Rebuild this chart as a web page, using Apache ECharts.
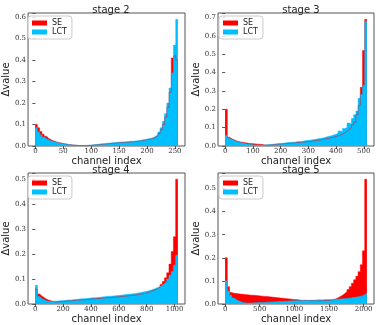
<!DOCTYPE html>
<html>
<head>
<meta charset="utf-8">
<script src="https://cdn.jsdelivr.net/npm/echarts@6/dist/echarts.min.js"></script>
<style>
  html, body { margin: 0; padding: 0; background: #fff; }
  #chart { width: 382px; height: 325px; }
</style>
</head>
<body>
<div id="chart"></div>
<script>
// panel titles and channel counts
const stageNames = ["stage 2", "stage 3", "stage 4", "stage 5"];
const channelCounts = [256, 512, 1024, 2048];
const xTickSteps = [50, 100, 200, 500];

// delta values, 64 equal bins of channels per stage
const se2 = [0.100,0.085,0.068,0.055,0.045,0.036,0.030,0.025,0.021,0.018,
  0.015,0.013,0.011,0.009,0.007,0.006,0.005,0.004,0.003,0.002,
  0.002,0.002,0.002,0.003,0.003,0.004,0.005,0.006,0.007,0.008,
  0.009,0.010,0.011,0.012,0.013,0.014,0.015,0.016,0.016,0.017,
  0.018,0.018,0.019,0.020,0.021,0.022,0.023,0.025,0.027,0.029,
  0.031,0.033,0.036,0.041,0.047,0.058,0.075,0.100,0.135,0.180,
  0.250,0.410,0.420,0.400];
const lct2 = [0.085,0.065,0.052,0.042,0.035,0.029,0.025,0.021,0.018,0.016,
  0.014,0.012,0.010,0.009,0.007,0.006,0.005,0.004,0.003,0.002,
  0.002,0.002,0.003,0.003,0.004,0.006,0.007,0.008,0.009,0.010,
  0.011,0.012,0.013,0.014,0.015,0.016,0.017,0.018,0.019,0.019,
  0.020,0.021,0.022,0.022,0.023,0.024,0.026,0.028,0.030,0.032,
  0.034,0.036,0.040,0.045,0.052,0.065,0.085,0.115,0.150,0.200,
  0.270,0.340,0.470,0.590];

const se3 = [0.200,0.048,0.040,0.034,0.029,0.025,0.022,0.020,0.018,0.016,
  0.014,0.013,0.012,0.011,0.010,0.009,0.008,0.006,0.005,0.006,
  0.007,0.008,0.009,0.010,0.011,0.012,0.013,0.014,0.015,0.016,
  0.017,0.018,0.019,0.020,0.021,0.022,0.024,0.025,0.026,0.028,
  0.030,0.031,0.033,0.035,0.037,0.040,0.042,0.045,0.048,0.051,
  0.056,0.060,0.064,0.072,0.080,0.090,0.100,0.115,0.130,0.170,
  0.220,0.320,0.520,0.690];
const lct3 = [0.058,0.042,0.036,0.030,0.026,0.022,0.019,0.016,0.013,0.011,
  0.009,0.008,0.006,0.005,0.005,0.004,0.005,0.006,0.007,0.008,
  0.009,0.010,0.011,0.013,0.014,0.015,0.016,0.018,0.019,0.020,
  0.021,0.022,0.024,0.025,0.026,0.028,0.030,0.031,0.033,0.035,
  0.037,0.039,0.041,0.043,0.046,0.050,0.053,0.056,0.060,0.064,
  0.070,0.082,0.078,0.095,0.100,0.125,0.120,0.150,0.170,0.190,
  0.260,0.280,0.330,0.680];

const se4 = [0.060,0.040,0.032,0.026,0.020,0.016,0.013,0.011,0.009,0.008,
  0.009,0.010,0.011,0.012,0.013,0.013,0.014,0.015,0.016,0.016,
  0.017,0.017,0.018,0.019,0.020,0.020,0.021,0.022,0.022,0.023,
  0.024,0.025,0.025,0.026,0.027,0.028,0.028,0.029,0.030,0.031,
  0.032,0.033,0.034,0.035,0.036,0.037,0.039,0.040,0.042,0.044,
  0.047,0.050,0.054,0.058,0.062,0.068,0.078,0.090,0.105,0.125,
  0.160,0.210,0.270,0.500];
const lct4 = [0.075,0.030,0.022,0.017,0.013,0.011,0.010,0.010,0.011,0.012,
  0.013,0.013,0.014,0.015,0.016,0.016,0.017,0.018,0.019,0.020,
  0.021,0.021,0.022,0.023,0.024,0.025,0.025,0.026,0.027,0.028,
  0.029,0.030,0.031,0.031,0.032,0.033,0.034,0.035,0.036,0.037,
  0.038,0.039,0.040,0.041,0.042,0.044,0.045,0.047,0.049,0.051,
  0.053,0.056,0.059,0.062,0.066,0.070,0.075,0.082,0.090,0.100,
  0.115,0.130,0.155,0.195];

const se5 = [0.200,0.075,0.050,0.046,0.045,0.044,0.043,0.042,0.041,0.040,
  0.039,0.038,0.038,0.037,0.036,0.035,0.034,0.033,0.032,0.031,
  0.030,0.029,0.028,0.027,0.026,0.025,0.024,0.023,0.022,0.021,
  0.020,0.019,0.018,0.017,0.016,0.016,0.015,0.015,0.014,0.014,
  0.014,0.014,0.014,0.014,0.015,0.015,0.016,0.017,0.019,0.022,
  0.027,0.032,0.038,0.045,0.053,0.063,0.075,0.090,0.105,0.120,
  0.140,0.170,0.230,0.540];
const lct5 = [0.100,0.055,0.038,0.026,0.019,0.014,0.010,0.007,0.005,0.004,
  0.004,0.004,0.005,0.005,0.006,0.006,0.007,0.007,0.008,0.008,
  0.009,0.009,0.010,0.010,0.011,0.011,0.012,0.012,0.013,0.013,
  0.014,0.014,0.015,0.015,0.015,0.016,0.016,0.016,0.017,0.017,
  0.017,0.018,0.018,0.018,0.019,0.019,0.019,0.020,0.020,0.021,
  0.021,0.022,0.023,0.023,0.024,0.025,0.026,0.028,0.029,0.031,
  0.033,0.036,0.040,0.047];

const seData = [se2, se3, se4, se5];
const lctData = [lct2, lct3, lct4, lct5];

// grid boxes in px: [left, top, width, height]
const boxes = [[27, 13, 158, 133], [218, 13, 156, 133], [27, 173, 158, 133], [218, 173, 156, 133]];

// bins -> step points at the left edge of each bin, closed at the last channel edge
function toSteps(vals, n) {
  const w = n / vals.length;
  const pts = vals.map((v, i) => [i * w - 0.4, v]);
  pts.push([n - 0.6, vals[vals.length - 1]]);
  return pts;
}

const serif = "DejaVu Serif";
const sans = "DejaVu Sans";

let grids = [], xAxes = [], yAxes = [], titles = [], legends = [], series = [];
boxes.forEach((b, i) => {
  const n = channelCounts[i];
  const step = xTickSteps[i];
  const xMin = -0.4 - 0.05 * (n - 0.2);
  const xMax = n - 0.6 + 0.05 * (n - 0.2);
  const yMax = Math.max(...seData[i], ...lctData[i]) * 1.05;

  grids.push({ left: b[0], top: b[1], width: b[2], height: b[3], show: true, borderColor: "#555", borderWidth: 1, backgroundColor: "#fff" });
  titles.push({ text: stageNames[i], left: b[0] + b[2] / 2, top: b[1] - 13, textAlign: "center",
    textStyle: { fontFamily: sans, fontSize: 10, fontWeight: "normal", color: "#222" } });
  legends.push({ data: ["SE", "LCT"], orient: "vertical", left: b[0] + 1, top: b[1] + 3,
    icon: "rect", itemWidth: 15, itemHeight: 5, itemGap: 1, padding: [3, 5, 3, 4],
    borderColor: "#ccc", borderWidth: 1, borderRadius: 3, backgroundColor: "rgba(255,255,255,0.8)",
    textStyle: { fontFamily: sans, fontSize: 8, color: "#222" }, selectedMode: false });
  xAxes.push({
    type: "value", gridIndex: i, min: xMin, max: xMax,
    name: "channel index", nameLocation: "middle", nameGap: 10,
    nameTextStyle: { fontFamily: sans, fontSize: 10, color: "#222" },
    axisLine: { show: false }, splitLine: { show: false },
    axisTick: { show: true, inside: false, length: 3, lineStyle: { color: "#555" } },
    axisLabel: { fontFamily: serif, fontSize: 7, color: "#333", margin: 2, showMinLabel: false, showMaxLabel: false,
      formatter: v => (Math.abs(v % step) < 1e-6 ? String(v) : "") }
  });
  yAxes.push({
    type: "value", gridIndex: i, min: 0, max: yMax, interval: 0.1,
    name: "Δvalue", nameLocation: "middle", nameGap: 11,
    nameTextStyle: { fontFamily: sans, fontSize: 10, color: "#222" },
    axisLine: { show: false }, splitLine: { show: false },
    axisTick: { show: true, inside: false, length: 3, lineStyle: { color: "#555" } },
    axisLabel: { fontFamily: serif, fontSize: 7, color: "#333", margin: 2,
      formatter: v => (Math.abs(v * 10 - Math.round(v * 10)) < 1e-6 ? v.toFixed(1) : "") }
  });
  // SE first, LCT drawn over it
  [["SE", seData[i], "#ff0000"], ["LCT", lctData[i], "#00bfff"]].forEach(([name, vals, color]) => {
    series.push({
      name: name, type: "line", xAxisIndex: i, yAxisIndex: i, data: toSteps(vals, n),
      step: "end", showSymbol: false, symbol: "none", clip: true,
      itemStyle: { color: color },
      lineStyle: { color: color, width: 0.5 },
      areaStyle: { color: color, opacity: 1 }
    });
  });
});

const chart = echarts.init(document.getElementById("chart"));
chart.setOption({
  animation: false,
  title: titles,
  legend: legends,
  grid: grids,
  xAxis: xAxes,
  yAxis: yAxes,
  series: series
});
</script>
</body>
</html>
